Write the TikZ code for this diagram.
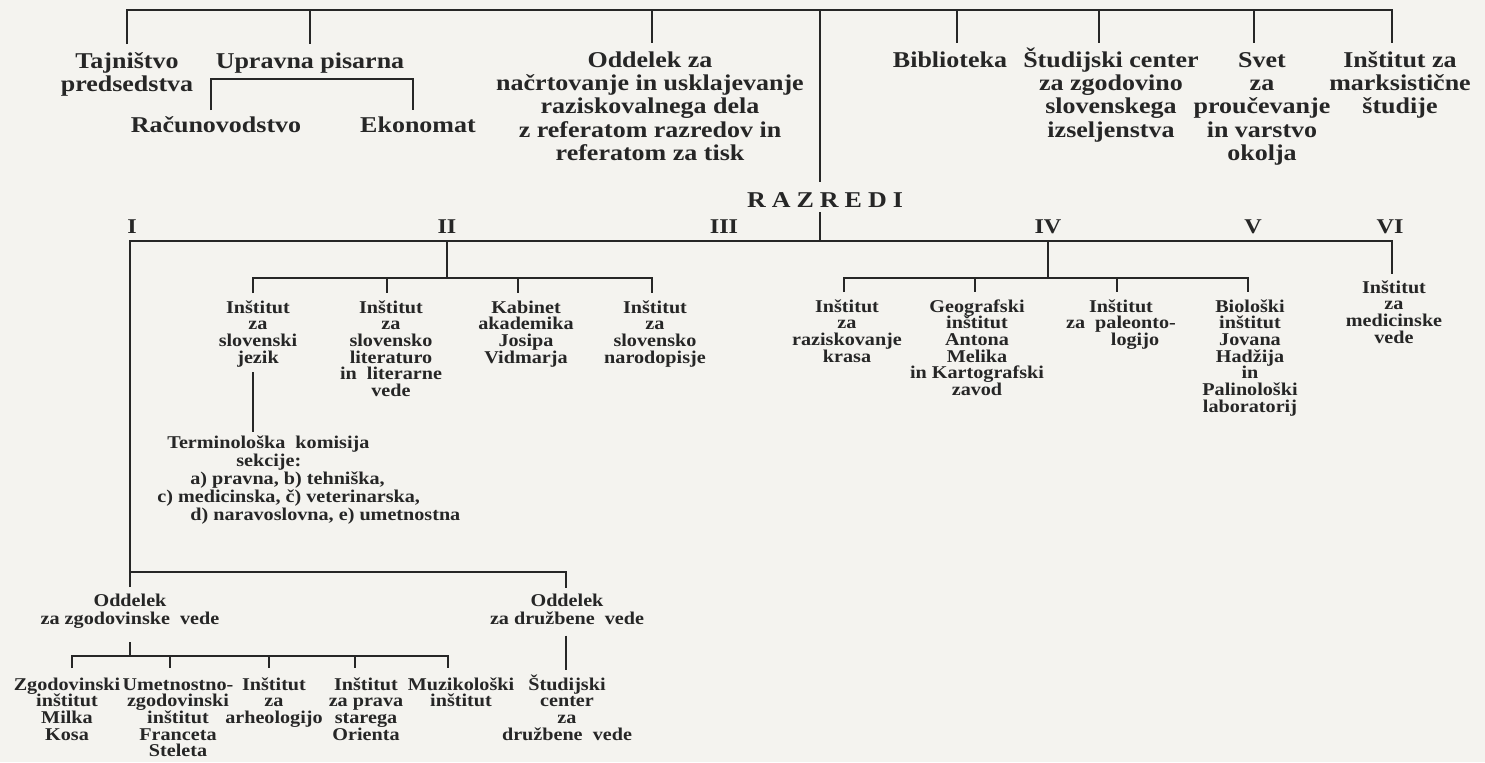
\documentclass[tikz,border=0pt]{standalone}
\usepackage{fontspec}
\setmainfont{Liberation Serif}
\newfontfamily\topfont{Liberation Serif}[FakeStretch=1.15]
\newfontfamily\smfont{Liberation Serif}[FakeStretch=1.12]
\definecolor{paper}{HTML}{F4F3EF}
\definecolor{ink}{HTML}{262626}
\newcommand\tightlines{\lineskiplimit=-50pt\relax\lineskip=0pt\relax}
\newcommand\fntTop{\topfont\bfseries\fontsize{11.3}{11.7}\selectfont\tightlines}
\newcommand\fntSm{\smfont\bfseries\fontsize{9}{8.35}\selectfont\tightlines}
\newcommand\fntSmW{\smfont\bfseries\fontsize{9}{9}\selectfont\tightlines}
\newcommand\fntRom{\topfont\bfseries\fontsize{10.5}{11}\selectfont}
% multi-line blocks whose baseline is the first line
\newcommand\ml[1]{\vtop{\halign{\hfil##\hfil\cr#1\crcr}}}
\newcommand\mll[1]{\vtop{\halign{##\hfil\cr#1\crcr}}}
\begin{document}
\begin{tikzpicture}[x=0.5pt,y=-0.5pt,
  lbl/.style={font=\fntTop, inner sep=0pt, anchor=base, text=ink},
  sml/.style={font=\fntSm, inner sep=0pt, anchor=base, text=ink},
  smlw/.style={font=\fntSmW, inner sep=0pt, anchor=base, text=ink},
  rom/.style={font=\fntRom, inner sep=0pt, anchor=base, text=ink},
  ln/.style={draw=ink, line width=0.9pt}]
\useasboundingbox[fill=paper] (0,0) rectangle (1485,762);

% helper coordinates (bar levels)
\coordinate (top) at (0,10);
\coordinate (ub) at (0,79);
\coordinate (rb) at (0,241);
\coordinate (b2) at (0,278);
\coordinate (lb) at (0,572);
\coordinate (lb2) at (0,656);
\coordinate (cx) at (820,0);

% top level
\node[lbl] (tj) at (127,68) {\ml{Tajništvo\cr predsedstva}};
\node[lbl] (up) at (310,68) {Upravna pisarna};
\node[lbl] (rac) at (216,132) {Računovodstvo};
\node[lbl] (eko) at (418,132) {Ekonomat};
\node[lbl] (odd) at (650,67) {\ml{Oddelek za\cr načrtovanje in usklajevanje\cr raziskovalnega dela\cr z referatom razredov in\cr referatom za tisk}};
\node[lbl] (bib) at (950,67) {Biblioteka};
\node[lbl] (stc) at (1111,67) {\ml{Študijski center\cr za zgodovino\cr slovenskega\cr izseljenstva}};
\node[lbl] (svet) at (1262,67) {\ml{Svet\cr za\cr proučevanje\cr in varstvo\cr okolja}};
\node[lbl] (ims) at (1400,67) {\ml{Inštitut za\cr marksistične\cr študije}};
\node[lbl] (raz) at (825,207) {R\hspace{3pt}A\hspace{3pt}Z\hspace{3pt}R\hspace{3pt}E\hspace{3pt}D\hspace{3pt}I};

% roman numerals
\node[rom] (r1) at (132,233) {I};
\node[rom] (r2) at (447,233) {II};
\node[rom] (r3) at (724,233) {III};
\node[rom] (r4) at (1048,233) {IV};
\node[rom] (r5) at (1253,233) {V};
\node[rom] (r6) at (1390,233) {VI};

% class II
\node[sml] (isj) at (258,313) {\ml{Inštitut\cr za\cr slovenski\cr jezik}};
\node[sml] (isl) at (391,313) {\ml{Inštitut\cr za\cr slovensko\cr literaturo\cr in\ \ literarne\cr vede}};
\node[sml] (kab) at (526,313) {\ml{Kabinet\cr akademika\cr Josipa\cr Vidmarja}};
\node[sml] (isn) at (655,313) {\ml{Inštitut\cr za\cr slovensko\cr narodopisje}};
\node[smlw, anchor=base west] (term) at (157,448)
 {\mll{\hspace*{5pt}Terminološka\ \ komisija\cr
  \hspace*{39.5pt}sekcije:\cr
  \hspace*{16.5pt}a) pravna, b) tehniška,\cr
  c) medicinska, č) veterinarska,\cr
  \hspace*{16.5pt}d) naravoslovna, e) umetnostna}};

% class IV
\node[sml] (ikr) at (847,312) {\ml{Inštitut\cr za\cr raziskovanje\cr krasa}};
\node[sml] (geo) at (977,312) {\ml{Geografski\cr inštitut\cr Antona\cr Melika\cr in Kartografski\cr zavod}};
\node[sml] (pal) at (1121,312) {\ml{Inštitut\cr za\ \ paleonto-\cr \hspace*{14pt}logijo}};
\node[sml] (bio) at (1250,312) {\ml{Biološki\cr inštitut\cr Jovana\cr Hadžija\cr in\cr Palinološki\cr laboratorij}};

% class VI
\node[sml] (imv) at (1394,293) {\ml{Inštitut\cr za\cr medicinske\cr vede}};

% class I
\node[smlw] (ozg) at (130,606) {\ml{Oddelek\cr za zgodovinske\ \ vede}};
\node[smlw] (odv) at (567,606) {\ml{Oddelek\cr za družbene\ \ vede}};
\node[sml] (zgi) at (67,690) {\ml{Zgodovinski\cr inštitut\cr Milka\cr Kosa}};
\node[sml] (umz) at (178,690) {\ml{Umetnostno-\cr zgodovinski\cr inštitut\cr Franceta\cr Steleta}};
\node[sml] (iar) at (274,690) {\ml{Inštitut\cr za\cr arheologijo}};
\node[sml] (ipo) at (366,690) {\ml{Inštitut\cr za prava\cr starega\cr Orienta}};
\node[sml] (muz) at (461,690) {\ml{Muzikološki\cr inštitut}};
\node[sml] (scd) at (567,690) {\ml{Študijski\cr center\cr za\cr družbene\ \ vede}};

% ---- connectors ----
% top bar
\draw[ln] ([yshift=12pt]tj.base) -- (tj.base |- top) -- ([xshift=-4pt]ims.base |- top) -- ([xshift=-4pt,yshift=12pt]ims.base);
\draw[ln] (up.base |- top) -- ([yshift=12pt]up.base);
\draw[ln] ([xshift=1pt]odd.base |- top) -- ([xshift=1pt,yshift=12pt]odd.base);
\draw[ln] ([xshift=3.5pt]bib.base |- top) -- ([xshift=3.5pt,yshift=12pt]bib.base);
\draw[ln] ([xshift=-6pt]stc.base |- top) -- ([xshift=-6pt,yshift=12pt]stc.base);
\draw[ln] ([xshift=-4pt]svet.base |- top) -- ([xshift=-4pt,yshift=12pt]svet.base);
\draw[ln] (cx |- top) -- ([yshift=12.5pt]raz.base -| cx);
\draw[ln] ([yshift=-2.5pt]raz.base -| cx) -- (cx |- rb);
% Upravna pisarna sub-bracket
\draw[ln] ([xshift=-2.5pt,yshift=11pt]rac.base) -- ([xshift=-2.5pt]rac.base |- ub) -- ([xshift=-2.5pt]eko.base |- ub) -- ([xshift=-2.5pt,yshift=11pt]eko.base);

% classes bar
\draw[ln] ([yshift=9.5pt]ozg.base) -- (ozg.base |- rb) -- ([xshift=-1pt]imv.base |- rb) -- ([xshift=-1pt,yshift=9.5pt]imv.base);

% class II
\draw[ln] (r2.base |- rb) -- (r2.base |- b2);
\draw[ln] ([xshift=-2.5pt,yshift=10pt]isj.base) -- ([xshift=-2.5pt]isj.base |- b2) -- ([xshift=-1.5pt]isn.base |- b2) -- ([xshift=-1.5pt,yshift=10pt]isn.base);
\draw[ln] ([xshift=-2pt]isl.base |- b2) -- ([xshift=-2pt,yshift=10pt]isl.base);
\draw[ln] ([xshift=-4pt]kab.base |- b2) -- ([xshift=-4pt,yshift=10pt]kab.base);
\draw[ln] ([xshift=-2.5pt,yshift=-2.5pt]isj.south) -- ([xshift=-2.5pt,yshift=8pt]isj.south |- term.base);

% class IV
\draw[ln] (r4.base |- rb) -- (r4.base |- b2);
\draw[ln] ([xshift=-1.5pt,yshift=10pt]ikr.base) -- ([xshift=-1.5pt]ikr.base |- b2) -- ([xshift=-1pt]bio.base |- b2) -- ([xshift=-1pt,yshift=10pt]bio.base);
\draw[ln] ([xshift=-1pt]geo.base |- b2) -- ([xshift=-1pt,yshift=10pt]geo.base);
\draw[ln] ([xshift=-2pt]pal.base |- b2) -- ([xshift=-2pt,yshift=10pt]pal.base);

% class I lower part
\draw[ln] (ozg.base |- lb) -- ([xshift=-0.5pt]odv.base |- lb) -- ([xshift=-0.5pt,yshift=9pt]odv.base);
\draw[ln] ([yshift=-7pt]ozg.south) -- (ozg.south |- lb2);
\draw[ln] ([xshift=2.5pt,yshift=11pt]zgi.base) -- ([xshift=2.5pt]zgi.base |- lb2) -- ([xshift=-6.5pt]muz.base |- lb2) -- ([xshift=-6.5pt,yshift=11pt]muz.base);
\draw[ln] ([xshift=-4pt]umz.base |- lb2) -- ([xshift=-4pt,yshift=11pt]umz.base);
\draw[ln] ([xshift=-2.5pt]iar.base |- lb2) -- ([xshift=-2.5pt,yshift=11pt]iar.base);
\draw[ln] ([xshift=-5.5pt]ipo.base |- lb2) -- ([xshift=-5.5pt,yshift=11pt]ipo.base);
\draw[ln] ([xshift=-0.5pt,yshift=-5.5pt]odv.south) -- ([xshift=-0.5pt,yshift=10pt]odv.south |- scd.base);
\end{tikzpicture}
\end{document}
